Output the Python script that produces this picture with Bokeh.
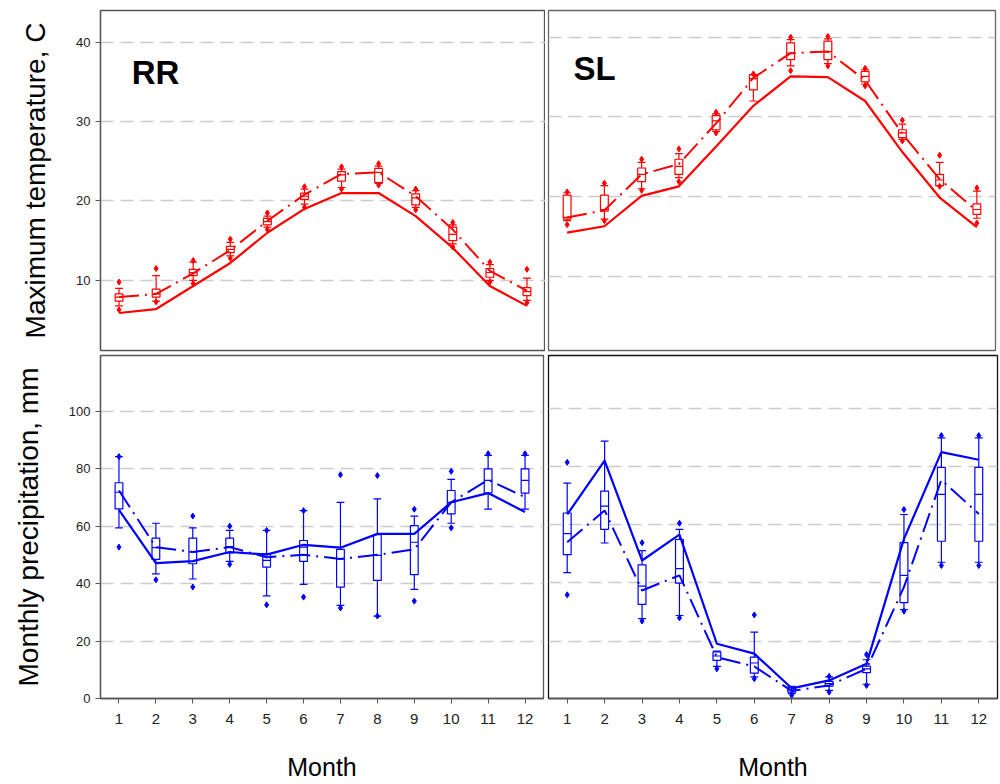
import numpy as np
from bokeh.plotting import figure
from bokeh.layouts import column, row
from bokeh.models import ColumnDataSource, FixedTicker, Label, LinearAxis
from bokeh.transform import dodge
from bokeh.embed import file_html
from bokeh.resources import INLINE

nan = float("nan")
months = [1, 2, 3, 4, 5, 6, 7, 8, 9, 10, 11, 12]
month_labels = ["1", "2", "3", "4", "5", "6", "7", "8", "9", "10", "11", "12"]

# ---- RR, maximum temperature (C) ----
rr_tmax_obs = [5.9, 6.4, 9.3, 12.2, 16.0, 19.0, 21.0, 21.0, 18.1, 14.1, 9.3, 6.8]
rr_tmax_sim = [7.9, 8.3, 10.9, 13.8, 17.5, 20.8, 23.4, 23.6, 20.6, 16.4, 11.2, 8.7]
rr_tmax_wlo = [6.8, 7.4, 10.0, 13.1, 16.7, 19.6, 21.7, 22.2, 19.2, 14.6, 10.0, 7.5]
rr_tmax_q1 = [7.4, 7.9, 10.6, 13.5, 17.0, 20.2, 22.5, 22.3, 19.5, 15.0, 10.4, 8.1]
rr_tmax_med = [7.9, 8.3, 11.0, 13.9, 17.4, 20.6, 23.3, 23.6, 20.4, 15.8, 11.0, 8.6]
rr_tmax_q3 = [8.3, 8.9, 11.4, 14.3, 17.8, 21.0, 23.7, 24.1, 20.9, 16.7, 11.5, 9.1]
rr_tmax_whi = [9.0, 10.6, 12.3, 14.8, 18.1, 21.5, 24.0, 24.4, 21.3, 17.0, 12.0, 10.3]
rr_tmax_olo = [6.3, 7.3, 9.6, 12.8, 16.4, 19.2, 21.5, 22.0, 18.9, 14.2, 9.8, 7.2]
rr_tmax_ohi = [9.8, 11.5, 12.5, 15.2, 18.5, 21.8, 24.3, 24.7, 21.5, 17.3, 12.3, 11.4]

# ---- SL, maximum temperature (C) ----
sl_tmax_obs = [15.5, 16.3, 20.1, 21.3, 26.3, 31.4, 35.1, 35.0, 32.0, 25.6, 19.9, 16.2]
sl_tmax_sim = [17.4, 18.3, 22.8, 24.1, 29.2, 34.9, 38.0, 38.2, 34.6, 27.9, 22.2, 18.2]
sl_tmax_wlo = [17.0, 17.2, 21.0, 22.4, 28.2, 32.0, 36.4, 36.7, 34.1, 27.2, 21.4, 17.3]
sl_tmax_q1 = [17.2, 18.2, 21.9, 22.8, 28.4, 33.4, 37.2, 37.2, 34.4, 27.4, 21.4, 17.8]
sl_tmax_med = [17.4, 18.4, 22.8, 23.8, 29.5, 34.8, 38.0, 38.2, 35.1, 28.0, 22.1, 18.4]
sl_tmax_q3 = [20.2, 20.2, 23.6, 24.7, 30.2, 35.3, 39.3, 39.5, 35.7, 28.4, 22.8, 19.1]
sl_tmax_whi = [20.5, 21.4, 24.3, 25.4, 30.4, 35.3, 39.7, 39.8, 35.9, 29.1, 24.3, 20.7]
sl_tmax_olo = [16.5, 17.0, 20.8, 21.9, 28.0, nan, 35.8, 36.4, 33.9, 27.0, 21.3, 16.7]
sl_tmax_ohi = [20.6, 21.7, 24.7, 26.0, 30.6, 35.4, 40.0, 40.1, 36.1, 29.6, 25.2, 21.1]

# ---- RR, monthly precipitation (mm) ----
rr_prec_obs = [65.7, 47.1, 47.8, 51.0, 50.1, 53.5, 52.5, 57.3, 57.3, 68.3, 71.5, 64.9]
rr_prec_sim = [72.4, 52.7, 51.0, 52.7, 49.2, 50.0, 48.6, 50.0, 51.9, 68.3, 76.1, 70.1]
rr_prec_wlo = [59.4, 43.4, 41.6, 47.7, 35.7, 39.7, 32.4, 28.7, 38.0, 61.0, 65.9, 65.9]
rr_prec_q1 = [66.0, 48.4, 46.9, 50.7, 45.7, 47.7, 38.8, 41.1, 43.1, 64.3, 71.5, 71.5]
rr_prec_med = [71.8, 52.5, 51.0, 52.9, 48.1, 52.7, 48.6, 49.8, 54.4, 68.3, 75.9, 75.9]
rr_prec_q3 = [75.1, 55.8, 55.8, 55.8, 50.4, 55.0, 51.9, 57.0, 60.2, 72.4, 79.9, 79.9]
rr_prec_whi = [84.2, 61.0, 59.4, 58.5, 58.5, 65.4, 68.3, 69.5, 63.5, 76.3, 84.6, 84.6]
rr_prec_olo = [52.7, 41.3, 38.8, 46.7, 32.6, 35.3, 31.5, 28.7, 33.9, 59.4, nan, nan]
rr_prec_ohi = [84.2, nan, 63.5, 60.0, 58.5, 65.4, 77.9, 77.6, 65.9, 79.1, 85.2, 85.2]

# ---- SL, monthly precipitation (mm) ----
sl_prec_obs = [63.5, 82.0, 47.7, 56.6, 19.1, 15.7, 3.8, 6.5, 12.2, 55.1, 84.9, 82.3]
sl_prec_sim = [54.0, 64.9, 37.4, 42.6, 14.5, 11.3, 2.9, 4.8, 10.5, 38.6, 75.4, 63.7]
sl_prec_wlo = [43.5, 53.7, 27.7, 28.8, 11.3, 7.7, 2.0, 3.1, 5.2, 30.8, 47.1, 47.1]
sl_prec_q1 = [49.7, 58.4, 32.6, 39.9, 13.4, 9.0, 2.5, 4.5, 9.2, 33.2, 54.3, 54.3]
sl_prec_med = [56.9, 66.4, 38.9, 44.9, 14.9, 12.5, 3.3, 5.4, 10.5, 42.6, 70.4, 70.4]
sl_prec_q3 = [64.0, 71.5, 46.2, 54.9, 16.3, 14.5, 4.2, 6.2, 11.4, 53.8, 79.7, 79.7]
sl_prec_whi = [74.3, 88.7, 51.1, 58.4, 16.6, 23.1, 4.5, 7.7, 13.6, 63.5, 89.8, 89.8]
sl_prec_olo = [35.9, nan, 26.9, 28.0, 10.5, 7.1, 1.4, 2.5, 4.8, 30.3, 46.0, 46.0]
sl_prec_ohi = [81.4, nan, 53.8, 60.5, nan, 29.0, nan, 7.9, 15.4, 65.2, 90.6, 90.6]

temp_ticks = [10, 20, 30, 40]
prec_ticks = [0, 20, 40, 60, 80, 100]
prec_grid = [20, 40, 60, 80, 100]

FONT = "Liberation Sans"
RED = "#ff0000"
BLUE = "#0000ff"


def make_fig(width, height, yr, mb):
    p = figure(width=width, height=height, x_range=(0.5, 12.5), y_range=yr,
               output_backend="svg", toolbar_location=None,
               x_axis_location=None, y_axis_location=None,
               min_border_left=mb[0], min_border_right=mb[1],
               min_border_top=mb[2], min_border_bottom=mb[3])
    p.xgrid.visible = False
    p.ygrid.grid_line_color = "#cccccc"
    p.ygrid.grid_line_width = 1.5
    p.ygrid.grid_line_dash = "13 7"
    p.background_fill_color = "white"
    p.border_fill_color = "white"
    p.outline_line_color = "#555555"
    p.outline_line_width = 1.3
    return p


def draw(p, color, obs, sim, wlo, q1, med, q3, whi, olo, ohi):
    src = ColumnDataSource(dict(
        x=np.array(months, dtype=float),
        obs=np.array(obs, dtype=float), sim=np.array(sim, dtype=float),
        wlo=np.array(wlo, dtype=float), q1=np.array(q1, dtype=float),
        med=np.array(med, dtype=float), q3=np.array(q3, dtype=float),
        whi=np.array(whi, dtype=float), olo=np.array(olo, dtype=float),
        ohi=np.array(ohi, dtype=float)))
    hw = 0.105
    p.segment(x0="x", y0="q3", x1="x", y1="whi", source=src, line_color=color, line_width=1.2)
    p.segment(x0="x", y0="q1", x1="x", y1="wlo", source=src, line_color=color, line_width=1.2)
    p.segment(x0=dodge("x", -hw), y0="whi", x1=dodge("x", hw), y1="whi", source=src,
              line_color=color, line_width=1.2)
    p.segment(x0=dodge("x", -hw), y0="wlo", x1=dodge("x", hw), y1="wlo", source=src,
              line_color=color, line_width=1.2)
    p.vbar(x="x", width=2 * hw, top="q3", bottom="q1", source=src,
           fill_color=None, line_color=color, line_width=1.2)
    p.segment(x0=dodge("x", -hw), y0="med", x1=dodge("x", hw), y1="med", source=src,
              line_color=color, line_width=1.2)
    p.scatter(x="x", y="olo", source=src, marker="diamond", size=6,
              fill_color=color, line_color=color)
    p.scatter(x="x", y="ohi", source=src, marker="diamond", size=6,
              fill_color=color, line_color=color)
    p.line(x="x", y="obs", source=src, line_color=color, line_width=2.2)
    p.line(x="x", y="sim", source=src, line_color=color, line_width=2.0,
           line_dash="20 6 2 6")


def yaxis(p, ticks, label):
    ax = LinearAxis(ticker=FixedTicker(ticks=ticks), axis_label=label)
    ax.axis_line_color = "#555555"
    ax.axis_line_width = 1.3
    ax.major_tick_line_color = "#555555"
    ax.major_tick_out = 5
    ax.major_tick_in = 0
    ax.minor_tick_line_color = None
    ax.major_label_text_font = FONT
    ax.major_label_text_font_size = "13px"
    ax.major_label_text_color = "#222222"
    ax.major_label_standoff = 5
    ax.axis_label_text_font = FONT
    ax.axis_label_text_font_size = "28px"
    ax.axis_label_text_font_style = "normal"
    ax.axis_label_text_color = "black"
    ax.axis_label_standoff = 22
    p.add_layout(ax, "left")


def xaxis(p):
    ax = LinearAxis(ticker=FixedTicker(ticks=months), axis_label="Month")
    ax.major_label_overrides = {m: s for m, s in zip(months, month_labels)}
    ax.axis_line_color = "#555555"
    ax.axis_line_width = 1.3
    ax.major_tick_line_color = "#555555"
    ax.major_tick_out = 5
    ax.major_tick_in = 0
    ax.minor_tick_line_color = None
    ax.major_label_text_font = FONT
    ax.major_label_text_font_size = "15px"
    ax.major_label_text_color = "#222222"
    ax.major_label_standoff = 10
    ax.axis_label_text_font = FONT
    ax.axis_label_text_font_size = "25px"
    ax.axis_label_text_font_style = "normal"
    ax.axis_label_text_color = "black"
    ax.axis_label_standoff = 26
    p.add_layout(ax, "below")


# top-left: RR temperature
tl = make_fig(545, 352, (1.18, 43.98), (100, 0, 9, 2))
tl.ygrid.ticker = FixedTicker(ticks=temp_ticks)
yaxis(tl, temp_ticks, "Maximum temperature, C")
draw(tl, RED, rr_tmax_obs, rr_tmax_sim, rr_tmax_wlo, rr_tmax_q1, rr_tmax_med,
     rr_tmax_q3, rr_tmax_whi, rr_tmax_olo, rr_tmax_ohi)
tl.add_layout(Label(x=1.34, y=33.8, text="RR", text_font=FONT, text_font_size="33px",
                    text_font_style="bold", text_color="black"))

# top-right: SL temperature
tr = make_fig(455, 352, (0.72, 43.35), (3, 5, 10, 2))
tr.ygrid.ticker = FixedTicker(ticks=temp_ticks)
tr.outline_line_color = "#666666"
draw(tr, RED, sl_tmax_obs, sl_tmax_sim, sl_tmax_wlo, sl_tmax_q1, sl_tmax_med,
     sl_tmax_q3, sl_tmax_whi, sl_tmax_olo, sl_tmax_ohi)
tr.add_layout(Label(x=1.17, y=33.8, text="SL", text_font=FONT, text_font_size="33px",
                    text_font_style="bold", text_color="black"))

# bottom-left: RR precipitation
bl = make_fig(545, 432, (0, 119.4), (100, 2, 3, 86))
bl.ygrid.ticker = FixedTicker(ticks=prec_grid)
yaxis(bl, prec_ticks, "Monthly precipitation, mm")
xaxis(bl)
draw(bl, BLUE, rr_prec_obs, rr_prec_sim, rr_prec_wlo, rr_prec_q1, rr_prec_med,
     rr_prec_q3, rr_prec_whi, rr_prec_olo, rr_prec_ohi)

# bottom-right: SL precipitation
br = make_fig(455, 432, (0.3, 118.1), (3, 3, 3, 86))
br.ygrid.ticker = FixedTicker(ticks=prec_grid)
br.outline_line_color = "#111111"
xaxis(br)
draw(br, BLUE, sl_prec_obs, sl_prec_sim, sl_prec_wlo, sl_prec_q1, sl_prec_med,
     sl_prec_q3, sl_prec_whi, sl_prec_olo, sl_prec_ohi)

layout = column(row(tl, tr), row(bl, br))
open("out.html", "w").write(file_html(layout, INLINE))
